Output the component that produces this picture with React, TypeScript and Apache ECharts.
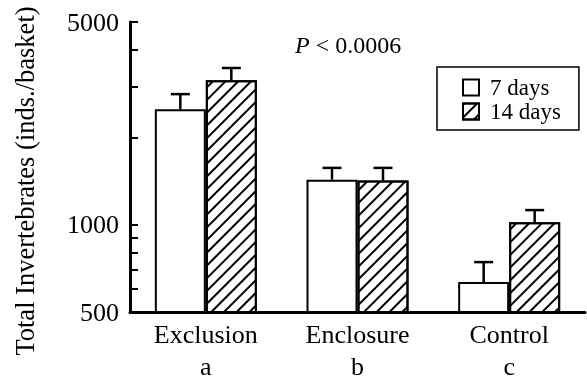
import React, { useEffect, useRef } from "react";
import * as echarts from "echarts";

const categories = ["Exclusion", "Enclosure", "Control"];
const letters = ["a", "b", "c"];
const seriesNames = ["7 days", "14 days"];
const days7 = [2500, 1430, 634];
const days14 = [3150, 1420, 1020];
const err7 = [2820, 1570, 743];
const err14 = [3470, 1570, 1123];
const yLabelValues = [500, 1000, 5000];
const yTickValues = [500, 600, 700, 800, 900, 1000, 2000, 3000, 4000, 5000];
const pText = "P < 0.0006";

const FONT = '"Liberation Serif", "Times New Roman", serif';
const BAR_W = 51;

export default function App() {
  const ref = useRef<HTMLDivElement>(null);
  useEffect(() => {
    const chart = echarts.init(ref.current!, undefined, { renderer: "svg" });
    const errRender = (offset: number) => (params: any, api: any) => {
      const top = api.coord([api.value(0), api.value(2)]);
      const base = api.coord([api.value(0), api.value(1)]);
      const x = top[0] + offset;
      const style = { stroke: "#000", lineWidth: 2.5 };
      return {
        type: "group",
        children: [
          { type: "line", shape: { x1: x, y1: base[1], x2: x, y2: top[1] }, style },
          { type: "line", shape: { x1: x - 9.5, y1: top[1], x2: x + 9.5, y2: top[1] }, style },
        ],
      };
    };
    chart.setOption({
      animation: false,
      grid: { left: 130, right: 2, top: 22, bottom: 67, containLabel: false, outerBoundsMode: "none" },
      legend: {
        data: seriesNames,
        orient: "vertical",
        left: 437,
        top: 67,
        padding: [9, 18, 7, 25],
        itemGap: 1,
        itemWidth: 16,
        itemHeight: 16,
        icon: "rect",
        borderColor: "#000",
        borderWidth: 1.5,
        textStyle: { fontSize: 23, lineHeight: 19, fontFamily: FONT, color: "#000", padding: [0, 0, 0, 6] },
      },
      xAxis: {
        type: "category",
        data: categories,
        axisLine: { lineStyle: { color: "#000", width: 3 } },
        axisTick: { show: false },
        axisLabel: {
          fontSize: 26,
          lineHeight: 32,
          color: "#000",
          fontFamily: FONT,
          margin: 6,
          formatter: (v: string, i: number) => v + "\n" + letters[i],
        },
      },
      yAxis: {
        type: "log",
        logBase: 10,
        min: 500,
        max: 5000,
        axisLine: { show: true, lineStyle: { color: "#000", width: 3 } },
        axisTick: { show: true, inside: true, length: 8, lineStyle: { color: "#000", width: 2 }, customValues: yTickValues },
        axisLabel: {
          fontSize: 26,
          color: "#000",
          fontFamily: FONT,
          margin: 11,
          customValues: yLabelValues,
          formatter: (v: number) => String(Math.round(v)),
        },
        splitLine: { show: false },
      },
      graphic: [
        {
          type: "text",
          x: 25,
          y: 181,
          rotation: Math.PI / 2,
          style: {
            text: "Total Invertebrates (inds./basket)",
            font: `26.5px ${FONT}`,
            fill: "#000",
            align: "center",
            verticalAlign: "middle",
          },
        },
        {
          type: "text",
          x: 295,
          y: 45,
          style: {
            text: "{i|P}" + pText.slice(1),
            fontSize: 24,
            fontFamily: FONT,
            fill: "#000",
            verticalAlign: "middle",
            rich: { i: { fontStyle: "italic", fontSize: 24, fontFamily: FONT } },
          },
        },
      ],
      series: [
        {
          name: seriesNames[0],
          type: "bar",
          data: days7,
          barWidth: BAR_W,
          barGap: "0%",
          itemStyle: { color: "#fff", borderColor: "#000", borderWidth: 2 },
        },
        {
          name: seriesNames[1],
          type: "bar",
          data: days14,
          barWidth: BAR_W,
          barGap: "0%",
          itemStyle: {
            color: "#fff",
            borderColor: "#000",
            borderWidth: 2,
            decal: {
              symbol: "rect",
              symbolSize: 1,
              color: "#000",
              backgroundColor: "#fff",
              dashArrayX: [1, 0],
              dashArrayY: [2, 7],
              rotation: -Math.PI / 4,
            },
          },
        },
        {
          type: "custom",
          renderItem: errRender(-BAR_W / 2),
          data: categories.map((c, i) => [i, days7[i], err7[i]]),
          z: 5,
        },
        {
          type: "custom",
          renderItem: errRender(BAR_W / 2),
          data: categories.map((c, i) => [i, days14[i], err14[i]]),
          z: 5,
        },
      ],
    });
    return () => chart.dispose();
  }, []);
  return <div ref={ref} style={{ position: "fixed", left: 0, top: 0, width: 587, height: 379 }} />;
}
